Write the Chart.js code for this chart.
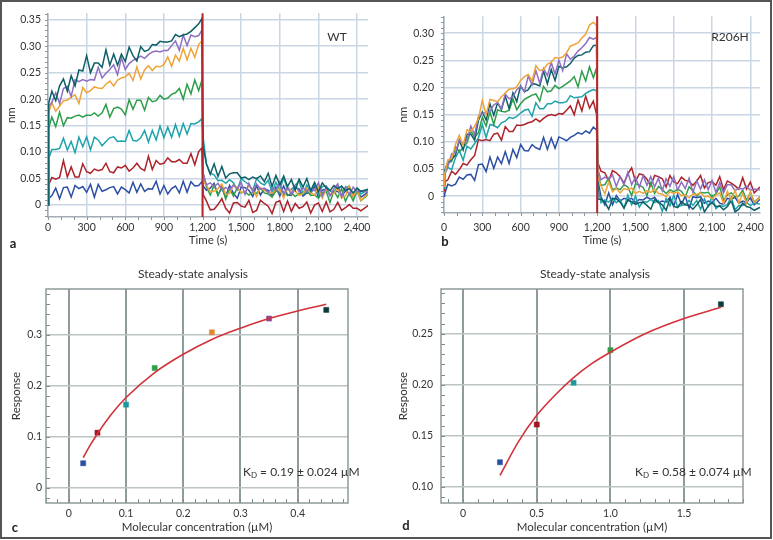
<!DOCTYPE html>
<html>
<head>
<meta charset="utf-8">
<script src="https://cdn.jsdelivr.net/npm/chart.js@4/dist/chart.umd.min.js"></script>
<style>
  body { margin: 0; background: #fff; width: 773px; height: 540px; position: relative; overflow: hidden; font-family: Lato, sans-serif; color: #333; }
  .box { position: absolute; }
  .txt { position: absolute; font-size: 12px; color: #333; white-space: nowrap; transform: translate(-50%, -50%); }
  .kd { position: absolute; font-size: 12px; color: #333; white-space: nowrap; transform: translateY(-50%); }
  .kd sub { font-size: 8px; vertical-align: -2px; }
  .panel { position: absolute; font-weight: bold; font-size: 13px; color: #222; transform: translate(-50%, -50%); }
  #frame { position: absolute; left: 0; top: 0; width: 772px; height: 539px; border: 2px solid #555; box-sizing: border-box; pointer-events: none; }
</style>
</head>
<body>
<div class="box" style="left:0;top:0;width:380px;height:252px"><canvas id="chartA"></canvas></div>
<div class="box" style="left:396px;top:0;width:376px;height:252px"><canvas id="chartB"></canvas></div>
<div class="box" style="left:0;top:260px;width:386px;height:280px"><canvas id="chartC"></canvas></div>
<div class="box" style="left:396px;top:260px;width:376px;height:280px"><canvas id="chartD"></canvas></div>

<div class="txt" style="left:337px;top:36px">WT</div>
<div class="txt" style="left:730px;top:36px">R206H</div>
<div class="txt" style="left:193px;top:273px">Steady-state analysis</div>
<div class="txt" style="left:595px;top:273px">Steady-state analysis</div>
<div class="kd" style="left:243px;top:472px">K<sub>D</sub> = 0.19 ± 0.024 µM</div>
<div class="kd" style="left:635px;top:472px">K<sub>D</sub> = 0.58 ± 0.074 µM</div>
<div class="panel" style="left:13px;top:243px">a</div>
<div class="panel" style="left:445px;top:241px">b</div>
<div class="panel" style="left:15px;top:527px">c</div>
<div class="panel" style="left:406px;top:525px">d</div>
<div id="frame"></div>

<script>
// sensorgram time points (s): association, then dissociation
const assocTimes = [0, 5, 30, 60, 90, 120, 150, 180, 210, 240, 270, 300, 330, 360, 390, 420, 450, 480, 510, 540, 570, 600, 630, 660, 690, 720, 750, 780, 810, 840, 870, 900, 930, 960, 990, 1020, 1050, 1080, 1110, 1140, 1170, 1195];
const dissocTimes = [1205, 1230, 1260, 1290, 1320, 1350, 1380, 1410, 1440, 1470, 1500, 1530, 1560, 1590, 1620, 1650, 1680, 1710, 1740, 1770, 1800, 1830, 1860, 1890, 1920, 1950, 1980, 2010, 2040, 2070, 2100, 2130, 2160, 2190, 2220, 2250, 2280, 2310, 2340, 2370, 2400, 2430, 2490];
const timeTicks = [0, 300, 600, 900, 1200, 1500, 1800, 2100, 2400];
const switchTime = 1200;

// WT (nm)
const wtBlueOn = [0, 0.012, 0.018, 0.032, 0.012, 0.033, 0.034, 0.015, 0.037, 0.031, 0.035, 0.024, 0.039, 0.015, 0.039, 0.026, 0.029, 0.033, 0.035, 0.021, 0.034, 0.029, 0.023, 0.043, 0.024, 0.040, 0.026, 0.031, 0.030, 0.045, 0.021, 0.037, 0.021, 0.031, 0.036, 0.023, 0.045, 0.024, 0.044, 0.036, 0.037, 0.044];
const wtBlueOff = [0.036, 0.028, 0.032, 0.041, 0.019, 0.032, 0.016, 0.037, 0.022, 0.013, 0.034, 0.033, 0.028, 0.016, 0.037, 0.019, 0.031, 0.028, 0.018, 0.034, 0.017, 0.036, 0.019, 0.018, 0.033, 0.030, 0.017, 0.023, 0.021, 0.036, 0.014, 0.028, 0.030, 0.019, 0.025, 0.026, 0.018, 0.026, 0.035, 0.015, 0.027, 0.015, 0.025];
const wtRedOn = [0, 0.038, 0.052, 0.049, 0.052, 0.084, 0.053, 0.072, 0.053, 0.053, 0.078, 0.063, 0.060, 0.068, 0.065, 0.067, 0.079, 0.063, 0.061, 0.072, 0.070, 0.075, 0.064, 0.070, 0.079, 0.069, 0.065, 0.092, 0.067, 0.084, 0.077, 0.079, 0.089, 0.082, 0.082, 0.086, 0.079, 0.079, 0.097, 0.076, 0.101, 0.108];
const wtRedOff = [0.020, 0.008, -0.009, -0.008, 0.001, 0.012, -0.006, -0.015, 0.004, 0.005, -0.002, -0.004, 0.009, -0.014, -0.010, 0.009, 0.003, -0.002, -0.016, 0.005, 0.008, -0.012, 0.008, -0.012, 0.003, -0.006, -0.003, 0.006, -0.015, 0.000, 0.004, -0.012, 0.006, -0.013, -0.008, 0.005, -0.010, -0.005, 0.001, -0.006, -0.006, -0.011, 0.000];
const wtCyanOn = [0, 0.088, 0.105, 0.105, 0.107, 0.126, 0.104, 0.120, 0.099, 0.128, 0.110, 0.129, 0.104, 0.128, 0.123, 0.112, 0.120, 0.127, 0.129, 0.120, 0.121, 0.120, 0.141, 0.122, 0.121, 0.127, 0.141, 0.119, 0.141, 0.123, 0.149, 0.127, 0.147, 0.128, 0.152, 0.130, 0.154, 0.134, 0.154, 0.153, 0.157, 0.163];
const wtCyanOff = [0.128, 0.078, 0.060, 0.057, 0.046, 0.047, 0.041, 0.048, 0.042, 0.029, 0.050, 0.044, 0.039, 0.028, 0.050, 0.042, 0.038, 0.047, 0.025, 0.043, 0.028, 0.052, 0.029, 0.030, 0.037, 0.046, 0.021, 0.038, 0.025, 0.041, 0.020, 0.035, 0.036, 0.027, 0.023, 0.037, 0.018, 0.034, 0.035, 0.018, 0.032, 0.021, 0.030];
const wtGreenOn = [0, 0.145, 0.166, 0.148, 0.175, 0.150, 0.165, 0.164, 0.168, 0.170, 0.166, 0.170, 0.169, 0.174, 0.168, 0.174, 0.190, 0.166, 0.182, 0.185, 0.181, 0.170, 0.199, 0.181, 0.198, 0.198, 0.179, 0.203, 0.195, 0.197, 0.207, 0.200, 0.202, 0.209, 0.212, 0.220, 0.200, 0.228, 0.210, 0.236, 0.216, 0.236];
const wtGreenOff = [0.060, 0.035, 0.019, 0.038, 0.018, 0.035, 0.011, 0.031, 0.017, 0.033, 0.023, 0.025, 0.019, 0.024, 0.022, 0.032, 0.023, 0.021, 0.015, 0.027, 0.023, 0.025, 0.018, 0.023, 0.016, 0.022, 0.020, 0.028, 0.018, 0.019, 0.013, 0.023, 0.026, 0.005, 0.027, 0.014, 0.031, 0.007, 0.023, 0.008, 0.027, 0.008, 0.021];
const wtOrangeOn = [0, 0.175, 0.193, 0.177, 0.187, 0.197, 0.198, 0.204, 0.208, 0.192, 0.222, 0.212, 0.216, 0.223, 0.221, 0.220, 0.228, 0.234, 0.225, 0.236, 0.240, 0.242, 0.249, 0.235, 0.261, 0.238, 0.255, 0.263, 0.254, 0.262, 0.261, 0.265, 0.280, 0.262, 0.283, 0.272, 0.296, 0.274, 0.296, 0.279, 0.303, 0.310];
const wtOrangeOff = [0.045, 0.038, 0.025, 0.026, 0.031, 0.040, 0.020, 0.022, 0.038, 0.033, 0.024, 0.024, 0.037, 0.028, 0.016, 0.033, 0.028, 0.024, 0.022, 0.029, 0.030, 0.013, 0.034, 0.026, 0.027, 0.018, 0.022, 0.032, 0.023, 0.019, 0.034, 0.013, 0.030, 0.020, 0.022, 0.032, 0.013, 0.017, 0.036, 0.016, 0.029, 0.009, 0.023];
const wtPurpleOn = [0, 0.186, 0.194, 0.212, 0.192, 0.220, 0.224, 0.205, 0.237, 0.233, 0.237, 0.234, 0.237, 0.236, 0.260, 0.240, 0.249, 0.256, 0.265, 0.246, 0.278, 0.256, 0.267, 0.273, 0.277, 0.281, 0.277, 0.284, 0.289, 0.291, 0.289, 0.292, 0.292, 0.301, 0.310, 0.292, 0.321, 0.301, 0.321, 0.318, 0.320, 0.330];
const wtPurpleOff = [0.060, 0.038, 0.042, 0.035, 0.041, 0.029, 0.033, 0.029, 0.038, 0.030, 0.043, 0.020, 0.041, 0.025, 0.040, 0.030, 0.032, 0.023, 0.032, 0.028, 0.044, 0.020, 0.034, 0.020, 0.038, 0.025, 0.032, 0.027, 0.031, 0.027, 0.042, 0.017, 0.034, 0.017, 0.031, 0.040, 0.015, 0.034, 0.019, 0.034, 0.025, 0.027, 0.024];
const wtTealOn = [0, 0.192, 0.215, 0.197, 0.225, 0.238, 0.215, 0.244, 0.225, 0.255, 0.253, 0.282, 0.250, 0.268, 0.268, 0.260, 0.293, 0.264, 0.285, 0.264, 0.285, 0.271, 0.298, 0.282, 0.272, 0.299, 0.290, 0.293, 0.303, 0.302, 0.309, 0.308, 0.308, 0.310, 0.322, 0.318, 0.321, 0.323, 0.328, 0.335, 0.342, 0.352];
const wtTealOff = [0.110, 0.078, 0.058, 0.078, 0.054, 0.073, 0.051, 0.059, 0.061, 0.061, 0.051, 0.053, 0.048, 0.053, 0.050, 0.055, 0.044, 0.060, 0.035, 0.056, 0.038, 0.055, 0.035, 0.048, 0.028, 0.049, 0.034, 0.050, 0.027, 0.043, 0.025, 0.042, 0.033, 0.027, 0.037, 0.031, 0.036, 0.027, 0.031, 0.023, 0.032, 0.026, 0.030];

// R206H (nm)
const mtBlueOn = [0, 0.004, 0.022, 0.019, 0.022, 0.035, 0.031, 0.039, 0.040, 0.029, 0.058, 0.059, 0.045, 0.072, 0.051, 0.072, 0.060, 0.082, 0.060, 0.086, 0.071, 0.095, 0.084, 0.083, 0.095, 0.089, 0.086, 0.108, 0.086, 0.107, 0.088, 0.109, 0.106, 0.102, 0.108, 0.112, 0.117, 0.114, 0.120, 0.116, 0.127, 0.122];
const mtBlueOff = [0.030, -0.001, -0.016, 0.006, -0.016, 0.001, -0.009, -0.004, -0.006, -0.004, -0.012, -0.006, -0.007, -0.002, -0.006, -0.002, -0.012, -0.009, -0.011, -0.002, -0.018, 0.003, -0.015, 0.000, -0.022, -0.001, -0.003, -0.001, -0.013, -0.009, -0.012, -0.004, -0.013, -0.015, -0.004, -0.006, -0.002, -0.013, -0.009, -0.012, -0.003, -0.016, -0.003];
const mtRedOn = [0.010, 0.026, 0.030, 0.046, 0.040, 0.049, 0.060, 0.057, 0.067, 0.075, 0.104, 0.102, 0.104, 0.102, 0.114, 0.116, 0.103, 0.128, 0.119, 0.119, 0.131, 0.130, 0.132, 0.135, 0.137, 0.142, 0.137, 0.143, 0.148, 0.150, 0.148, 0.152, 0.151, 0.158, 0.166, 0.150, 0.177, 0.157, 0.184, 0.162, 0.175, 0.150];
const mtRedOff = [0.062, 0.046, 0.043, 0.028, 0.047, 0.043, 0.036, 0.024, 0.041, 0.052, 0.027, 0.041, 0.039, 0.031, 0.019, 0.038, 0.036, 0.032, 0.017, 0.038, 0.026, 0.023, 0.035, 0.029, 0.027, 0.020, 0.028, 0.038, 0.015, 0.025, 0.027, 0.020, 0.036, 0.012, 0.028, 0.024, 0.019, 0.013, 0.034, 0.013, 0.026, 0.006, 0.020];
const mtCyanOn = [0.015, 0.040, 0.053, 0.049, 0.071, 0.084, 0.066, 0.092, 0.087, 0.097, 0.107, 0.132, 0.108, 0.132, 0.130, 0.126, 0.135, 0.138, 0.145, 0.143, 0.147, 0.153, 0.158, 0.160, 0.147, 0.172, 0.161, 0.161, 0.170, 0.170, 0.175, 0.172, 0.172, 0.174, 0.185, 0.181, 0.182, 0.183, 0.189, 0.193, 0.196, 0.194];
const mtCyanOff = [0.020, -0.012, -0.007, -0.011, -0.003, -0.012, -0.007, -0.022, 0.002, -0.016, 0.000, -0.020, -0.010, -0.011, -0.006, -0.012, -0.008, -0.028, -0.004, -0.018, 0.002, -0.020, -0.017, -0.016, -0.008, -0.017, -0.008, -0.024, -0.005, -0.019, 0.000, -0.023, -0.017, -0.019, -0.015, -0.002, -0.025, -0.017, -0.017, -0.012, -0.017, -0.013, -0.015];
const mtGreenOn = [0.020, 0.045, 0.061, 0.064, 0.091, 0.082, 0.089, 0.098, 0.120, 0.108, 0.117, 0.145, 0.129, 0.155, 0.132, 0.159, 0.156, 0.155, 0.158, 0.179, 0.159, 0.170, 0.178, 0.182, 0.186, 0.188, 0.175, 0.202, 0.192, 0.194, 0.204, 0.198, 0.202, 0.207, 0.212, 0.220, 0.201, 0.230, 0.212, 0.238, 0.218, 0.236];
const mtGreenOff = [0.040, 0.020, 0.021, 0.033, 0.012, 0.015, 0.012, 0.021, 0.017, 0.001, 0.023, 0.020, 0.016, 0.001, 0.025, 0.005, 0.018, 0.012, 0.005, 0.012, 0.008, 0.013, 0.009, -0.001, 0.017, 0.010, 0.000, 0.007, 0.006, 0.007, -0.001, 0.004, 0.017, -0.007, 0.002, 0.006, -0.001, 0.000, 0.011, -0.008, 0.007, -0.011, 0.002];
const mtTealOn = [0.020, 0.046, 0.063, 0.067, 0.076, 0.103, 0.085, 0.114, 0.114, 0.103, 0.140, 0.155, 0.140, 0.170, 0.149, 0.172, 0.159, 0.184, 0.161, 0.190, 0.174, 0.203, 0.192, 0.196, 0.207, 0.206, 0.203, 0.230, 0.207, 0.233, 0.213, 0.239, 0.236, 0.238, 0.244, 0.254, 0.259, 0.260, 0.265, 0.266, 0.277, 0.278];
const mtTealOff = [-0.005, -0.006, -0.011, -0.024, -0.005, -0.005, -0.011, -0.022, -0.008, -0.010, -0.015, -0.012, -0.011, -0.017, -0.024, -0.006, -0.012, -0.016, -0.026, -0.005, -0.019, -0.021, -0.010, -0.016, -0.017, -0.024, -0.016, -0.006, -0.029, -0.018, -0.012, -0.019, -0.018, -0.025, -0.019, -0.008, -0.029, -0.024, -0.013, -0.019, -0.021, -0.026, -0.019];
const mtPurpleOn = [0.020, 0.044, 0.054, 0.078, 0.080, 0.103, 0.096, 0.103, 0.129, 0.113, 0.147, 0.152, 0.154, 0.156, 0.168, 0.172, 0.161, 0.188, 0.179, 0.183, 0.196, 0.202, 0.192, 0.221, 0.205, 0.231, 0.208, 0.235, 0.222, 0.246, 0.225, 0.250, 0.231, 0.262, 0.252, 0.258, 0.267, 0.273, 0.281, 0.292, 0.289, 0.292];
const mtPurpleOff = [0.050, 0.030, 0.035, 0.031, 0.039, 0.018, 0.036, 0.021, 0.044, 0.021, 0.035, 0.016, 0.038, 0.020, 0.036, 0.017, 0.033, 0.010, 0.032, 0.018, 0.036, 0.011, 0.026, 0.014, 0.033, 0.007, 0.028, 0.013, 0.030, 0.012, 0.029, 0.007, 0.025, 0.006, 0.021, 0.021, 0.010, 0.015, 0.013, 0.018, 0.011, 0.013, 0.011];
const mtOrangeOn = [0.018, 0.040, 0.067, 0.069, 0.095, 0.112, 0.094, 0.122, 0.119, 0.129, 0.143, 0.176, 0.150, 0.178, 0.176, 0.174, 0.183, 0.190, 0.197, 0.197, 0.201, 0.213, 0.220, 0.224, 0.212, 0.240, 0.231, 0.233, 0.243, 0.246, 0.255, 0.254, 0.256, 0.264, 0.276, 0.279, 0.282, 0.291, 0.298, 0.315, 0.320, 0.314];
const mtOrangeOff = [0.035, 0.019, 0.004, 0.026, 0.008, 0.014, 0.006, 0.014, 0.012, 0.015, 0.005, 0.009, 0.005, 0.010, 0.007, 0.013, 0.005, 0.004, -0.001, 0.008, 0.005, 0.008, 0.001, 0.002, -0.003, 0.004, 0.003, 0.006, -0.001, 0.000, -0.005, 0.002, 0.006, -0.014, 0.009, -0.007, 0.011, -0.012, 0.005, -0.013, 0.008, -0.011, 0.001];

// steady-state points and fitted curves
const wtConc = [0.025, 0.05, 0.1, 0.15, 0.25, 0.35, 0.45];
const wtResp = [0.048, 0.108, 0.163, 0.235, 0.305, 0.332, 0.349];
const wtFitX = [0.025, 0.0375, 0.05, 0.075, 0.1, 0.15, 0.2, 0.25, 0.3, 0.35, 0.4, 0.45];
const wtFitY = [0.059, 0.084, 0.106, 0.145, 0.177, 0.226, 0.262, 0.291, 0.313, 0.332, 0.347, 0.360];
const mtConc = [0.25, 0.5, 0.75, 1.0, 1.75];
const mtResp = [0.124, 0.161, 0.202, 0.234, 0.279];
const mtFitX = [0.25, 0.375, 0.5, 0.625, 0.75, 0.875, 1.0, 1.25, 1.5, 1.75];
const mtFitY = [0.111, 0.144, 0.170, 0.190, 0.207, 0.221, 0.232, 0.251, 0.265, 0.276];

const BLUE = '#2c4ea3', RED = '#ae2229', CYAN = '#1ea3ab', GREEN = '#2f9e4a', ORANGE = '#eea43a', PURPLE = '#8f6fc2', TEAL = '#0e5f66';

Chart.defaults.font.family = 'Lato, sans-serif';
Chart.defaults.color = '#333';

// short tick marks on the axes (minor + major), through the chart scales
const tickMarks = {
  id: 'tickMarks',
  afterDraw(chart, args, opts) {
    const { ctx, chartArea: area, scales } = chart;
    const dir = opts.inside ? -1 : 1;
    ctx.save();
    ctx.strokeStyle = opts.color;
    ctx.lineWidth = 1;
    ctx.beginPath();
    const xs = scales.x, ys = scales.y;
    for (let i = Math.ceil(xs.min / opts.xStep - 1e-6); i * opts.xStep <= xs.max + 1e-9; i++) {
      const p = Math.round(xs.getPixelForValue(i * opts.xStep)) + 0.5;
      ctx.moveTo(p, area.bottom);
      ctx.lineTo(p, area.bottom + dir * opts.len);
    }
    for (let i = Math.ceil(ys.min / opts.yStep - 1e-6); i * opts.yStep <= ys.max + 1e-9; i++) {
      const p = Math.round(ys.getPixelForValue(i * opts.yStep)) + 0.5;
      ctx.moveTo(area.left, p);
      ctx.lineTo(area.left - dir * opts.len, p);
    }
    ctx.stroke();
    ctx.restore();
  }
};

// vertical line marking the switch from association to dissociation
const switchLine = {
  id: 'switchLine',
  afterDatasetsDraw(chart) {
    const { ctx, chartArea: area, scales } = chart;
    const p = scales.x.getPixelForValue(switchTime);
    ctx.save();
    ctx.strokeStyle = '#b3262c';
    ctx.lineWidth = 2;
    ctx.beginPath();
    ctx.moveTo(p, area.top);
    ctx.lineTo(p, area.bottom);
    ctx.stroke();
    ctx.restore();
  }
};

// full box around the steady-state plots
const plotBox = {
  id: 'plotBox',
  afterDraw(chart) {
    const { ctx, chartArea: area } = chart;
    ctx.save();
    ctx.strokeStyle = '#8f9a9a';
    ctx.lineWidth = 1.5;
    ctx.strokeRect(area.left, area.top, area.right - area.left, area.bottom - area.top);
    ctx.restore();
  }
};

function traceChart(id, traces, c) {
  const times = assocTimes.concat(dissocTimes);
  return new Chart(document.getElementById(id), {
    type: 'line',
    data: {
      datasets: traces.map(tr => {
        const vals = tr.on.concat(tr.off);
        return {
          data: times.map((t, i) => ({ x: t, y: vals[i] })),
          borderColor: tr.color,
          borderWidth: 1.5,
          pointRadius: 0,
          tension: 0
        };
      })
    },
    options: {
      responsive: true,
      maintainAspectRatio: false,
      animation: false,
      layout: { padding: { top: 12, right: c.right, left: 0, bottom: 0 } },
      plugins: {
        legend: { display: false },
        tooltip: { enabled: false },
        tickMarks: { xStep: 100, yStep: 0.01, len: 3, inside: false, color: '#8e979f' }
      },
      scales: {
        x: {
          type: 'linear',
          min: 0,
          max: c.xMax,
          afterFit: s => { s.height = c.xh; },
          afterBuildTicks: s => { s.ticks = timeTicks.map(v => ({ value: v })); },
          border: { color: '#a3abb3', width: 1.5 },
          grid: { color: '#cad6e3', lineWidth: 1.5, drawTicks: false },
          ticks: {
            autoSkip: false, maxRotation: 0,
            padding: c.xPad, color: '#333', font: { size: 10.5 },
            callback: v => v.toLocaleString('en-US')
          },
          title: { display: true, text: 'Time (s)', color: '#333', font: { size: 11.5 }, padding: { top: 0, bottom: 5 } }
        },
        y: {
          min: c.yMin,
          max: c.yMax,
          afterFit: s => { s.width = 48; },
          border: { color: '#a3abb3', width: 1.5 },
          grid: { color: '#cad6e3', lineWidth: 1.5, drawTicks: false },
          ticks: {
            stepSize: 0.05, includeBounds: false, padding: c.yPad, color: '#333', font: { size: 10.5 },
            callback: v => (Math.abs(v) < 1e-9 ? '0' : v.toFixed(2))
          },
          title: { display: true, text: 'nm', color: '#333', font: { size: 11.5 }, padding: { top: c.yTitlePad, bottom: 0 } }
        }
      }
    },
    plugins: [tickMarks, switchLine]
  });
}

function steadyChart(id, conc, resp, colors, fitX, fitY, c) {
  return new Chart(document.getElementById(id), {
    type: 'scatter',
    data: {
      datasets: [
        {
          data: fitX.map((x, i) => ({ x: x, y: fitY[i] })),
          showLine: true,
          borderColor: '#d1323b',
          borderWidth: 1.6,
          pointRadius: 0,
          cubicInterpolationMode: 'monotone'
        },
        {
          data: conc.map((x, i) => ({ x: x, y: resp[i] })),
          pointStyle: 'rect',
          pointRadius: 3.6,
          pointBackgroundColor: colors,
          pointBorderColor: colors,
          pointBorderWidth: 0.5
        }
      ]
    },
    options: {
      responsive: true,
      maintainAspectRatio: false,
      animation: false,
      layout: { padding: { top: 29, right: c.right, left: 0, bottom: 0 } },
      plugins: {
        legend: { display: false },
        tooltip: { enabled: false },
        tickMarks: { xStep: c.xMinor, yStep: c.yMinor, len: 4, inside: true, color: '#7f8a8a' }
      },
      scales: {
        x: {
          type: 'linear',
          min: c.xMin,
          max: c.xMax,
          afterFit: s => { s.height = 37; },
          border: { display: false },
          grid: { color: '#8f9a9a', lineWidth: 2, drawTicks: false },
          ticks: {
            stepSize: c.xStep, includeBounds: false, autoSkip: false, maxRotation: 0,
            padding: 4, color: '#333', font: { size: 10.5 },
            callback: v => (Math.abs(v) < 1e-9 ? '0' : v.toFixed(1))
          },
          title: { display: true, text: 'Molecular concentration (µM)', color: '#333', font: { size: 11.5 }, padding: { top: 0, bottom: 6 } }
        },
        y: {
          min: c.yMin,
          max: c.yMax,
          afterFit: s => { s.width = c.yw; },
          border: { display: false },
          grid: { color: '#bcc3c3', lineWidth: 1.5, drawTicks: false },
          ticks: {
            stepSize: c.yStep, includeBounds: false, padding: c.yPad, color: '#333', font: { size: 10.5 },
            callback: v => (Math.abs(v) < 1e-9 ? '0' : v.toFixed(c.yDec))
          },
          title: { display: true, text: 'Response', color: '#333', font: { size: 11.5 }, padding: { top: c.yTitlePad, bottom: 0 } }
        }
      }
    },
    plugins: [tickMarks, plotBox]
  });
}

traceChart('chartA', [
  { on: wtTealOn, off: wtTealOff, color: TEAL },
  { on: wtPurpleOn, off: wtPurpleOff, color: PURPLE },
  { on: wtOrangeOn, off: wtOrangeOff, color: ORANGE },
  { on: wtGreenOn, off: wtGreenOff, color: GREEN },
  { on: wtCyanOn, off: wtCyanOff, color: CYAN },
  { on: wtRedOn, off: wtRedOff, color: RED },
  { on: wtBlueOn, off: wtBlueOff, color: BLUE }
], { right: 12, xMax: 2485, xh: 35, xPad: 4, yMin: -0.0225, yMax: 0.362, yPad: 7, yTitlePad: 4 });

traceChart('chartB', [
  { on: mtOrangeOn, off: mtOrangeOff, color: ORANGE },
  { on: mtPurpleOn, off: mtPurpleOff, color: PURPLE },
  { on: mtTealOn, off: mtTealOff, color: TEAL },
  { on: mtGreenOn, off: mtGreenOff, color: GREEN },
  { on: mtCyanOn, off: mtCyanOff, color: CYAN },
  { on: mtRedOn, off: mtRedOff, color: RED },
  { on: mtBlueOn, off: mtBlueOff, color: BLUE }
], { right: 9, xMax: 2475, xh: 39, xPad: 8, yMin: -0.031, yMax: 0.331, yPad: 10, yTitlePad: 0 });

steadyChart('chartC', wtConc, wtResp, [BLUE, '#a0161f', '#1b9a9e', GREEN, '#e2882e', '#8a4b98', '#0b3b3b'], wtFitX, wtFitY,
  { right: 38, xMin: -0.04, xMax: 0.488, xStep: 0.1, xMinor: 0.02, yMin: -0.03, yMax: 0.39, yStep: 0.1, yMinor: 0.02, yDec: 1, yw: 46, yPad: 4, yTitlePad: 9 });

steadyChart('chartD', mtConc, mtResp, [BLUE, '#a0161f', '#1b9a9e', GREEN, '#0b3b3b'], mtFitX, mtFitY,
  { right: 29, xMin: -0.15, xMax: 1.9, xStep: 0.5, xMinor: 0.1, yMin: 0.084, yMax: 0.294, yStep: 0.05, yMinor: 0.01, yDec: 2, yw: 45, yPad: 8, yTitlePad: 0 });
</script>
</body>
</html>
